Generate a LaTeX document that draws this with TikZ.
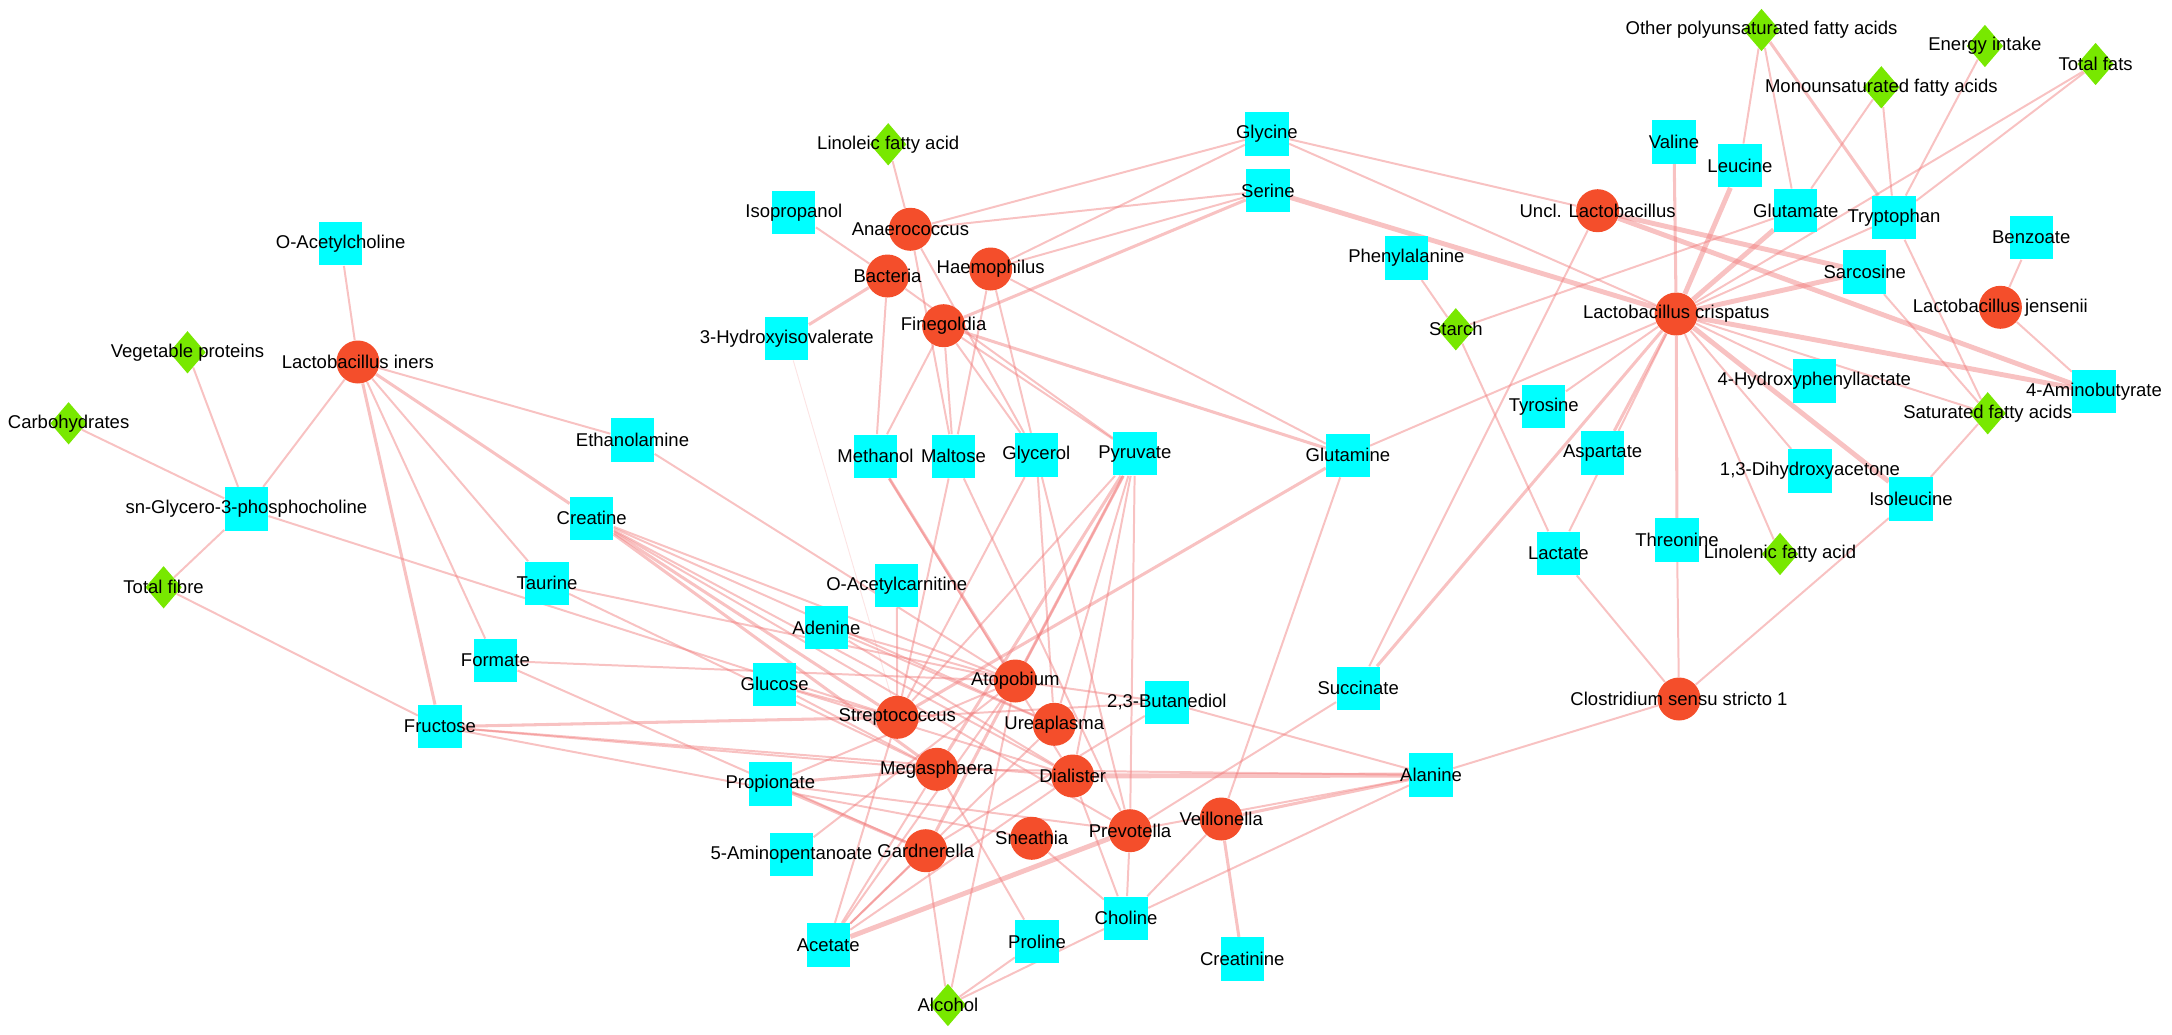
\documentclass[tikz,border=0pt]{standalone}
\usepackage{fontspec}
\setmainfont{Liberation Sans}
\usetikzlibrary{shapes.geometric, backgrounds}

\definecolor{bugred}{RGB}{244,78,43}
\definecolor{metabcyan}{RGB}{0,255,255}
\definecolor{dietgreen}{RGB}{120,232,0}
\definecolor{corrpink}{RGB}{240,120,120}

\begin{document}
\begin{tikzpicture}[
      x=0.015cm, y=-0.015cm,
      txt/.style={font=\fontsize{7.9}{9}\selectfont, inner sep=0pt, text=black},
      lbl/.style={label={[txt]center:#1}},
      bug/.style={circle, fill=bugred, minimum size=0.645cm, inner sep=0pt},
      metab/.style={rectangle, fill=metabcyan, minimum width=0.65cm, minimum height=0.65cm, inner sep=0pt},
      diet/.style={diamond, fill=dietgreen, minimum width=0.55cm, minimum height=0.64cm, inner sep=0pt},
      corr/.style={draw=corrpink, opacity=0.45, line width=0.85pt},
      corrmid/.style={corr, line width=1.3pt},
      corrthick/.style={corr, line width=2.1pt},
      corrfaint/.style={corr, opacity=0.2, line width=0.4pt}
    ]
      \useasboundingbox (0,0) rectangle (2172,1035);

      % Diet
      \node[diet, lbl=Vegetable proteins] (vegprot) at (187.5,352.3) {};
      \node[diet, lbl=Carbohydrates] (carbs) at (68.6,423.3) {};
      \node[diet, lbl=Total fibre] (totalfibre) at (163.6,587.3) {};
      \node[diet, lbl=Linoleic fatty acid] (linoleic) at (888.2,144.3) {};
      \node[diet, lbl=Starch] (starch) at (1455.8,329.3) {};
      \node[diet, lbl=Alcohol] (alcohol) at (947.9,1005) {};
      \node[diet, lbl=Other polyunsaturated fatty acids] (otherpufa) at (1761.5,30) {};
      \node[diet, lbl=Energy intake] (energy) at (1984.9,46) {};
      \node[diet, lbl=Total fats] (totalfats) at (2095.6,64) {};
      \node[diet, lbl=Monounsaturated fatty acids] (mufa) at (1881.3,87.3) {};
      \node[diet, lbl=Saturated fatty acids] (sfa) at (1987.7,413.3) {};
      \node[diet, lbl=Linolenic fatty acid] (linolenic) at (1780,554) {};

      % Metabolites
      \node[metab, lbl=O-Acetylcholine] (oacetylcholine) at (340.7,243.8) {};
      \node[metab, lbl=sn-Glycero-3-phosphocholine] (snglycero) at (246.4,509) {};
      \node[metab, lbl=Fructose] (fructose) at (440,726.7) {};
      \node[metab, lbl=Formate] (formate) at (495.4,660.7) {};
      \node[metab, lbl=Ethanolamine] (ethanolamine) at (632.5,440) {};
      \node[metab, lbl=Creatine] (creatine) at (591.7,518.3) {};
      \node[metab, lbl=Taurine] (taurine) at (547,583.3) {};
      \node[metab, lbl=3-Hydroxyisovalerate] (hydroxyiso) at (786.8,338.3) {};
      \node[metab, lbl=Isopropanol] (isopropanol) at (793.8,212.3) {};
      \node[metab, lbl=Methanol] (methanol) at (875.5,456.3) {};
      \node[metab, lbl=Maltose] (maltose) at (953.4,456.3) {};
      \node[metab, lbl=Glycerol] (glycerol) at (1036.4,455) {};
      \node[metab, lbl=Pyruvate] (pyruvate) at (1134.9,453.8) {};
      \node[metab, lbl=Glutamine] (glutamine) at (1347.9,455.2) {};
      \node[metab, lbl=Tyrosine] (tyrosine) at (1543.8,406.8) {};
      \node[metab, lbl=Lactate] (lactate) at (1558.4,553.3) {};
      \node[metab, lbl=Aspartate] (aspartate) at (1602.6,453) {};
      \node[metab, lbl=Succinate] (succinate) at (1358.2,688.3) {};
      \node[metab, lbl={2,3-Butanediol}] (butanediol) at (1166.9,702.3) {};
      \node[metab, lbl=O-Acetylcarnitine] (oacetylcarnitine) at (896.8,585.8) {};
      \node[metab, lbl=Adenine] (adenine) at (826.4,627.5) {};
      \node[metab, lbl=Glucose] (glucose) at (774.6,684.3) {};
      \node[metab, lbl=Propionate] (propionate) at (770.4,784) {};
      \node[metab, lbl=5-Aminopentanoate] (aminopent) at (791.4,854.3) {};
      \node[metab, lbl=Acetate] (acetate) at (828.2,945) {};
      \node[metab, lbl=Proline] (proline) at (1037,941.7) {};
      \node[metab, lbl=Choline] (choline) at (1126.1,918.3) {};
      \node[metab, lbl=Creatinine] (creatinine) at (1242.2,959) {};
      \node[metab, lbl=Alanine] (alanine) at (1431.1,775) {};
      \node[metab, lbl=Glycine] (glycine) at (1266.9,134) {};
      \node[metab, lbl=Serine] (serine) at (1267.9,190.7) {};
      \node[metab, lbl=Phenylalanine] (phenylalanine) at (1406.4,258) {};
      \node[metab, lbl=Valine] (valine) at (1674,142) {};
      \node[metab, lbl=Leucine] (leucine) at (1739.9,165.7) {};
      \node[metab, lbl=Glutamate] (glutamate) at (1795.8,210.7) {};
      \node[metab, lbl=Tryptophan] (tryptophan) at (1894,217.7) {};
      \node[metab, lbl=Benzoate] (benzoate) at (2031.2,237.7) {};
      \node[metab, lbl=Sarcosine] (sarcosine) at (1864.7,272) {};
      \node[metab, lbl=4-Hydroxyphenyllactate] (hydroxyphenyl) at (1814.3,381) {};
      \node[metab, lbl=4-Aminobutyrate] (aminobutyrate) at (2094,391.7) {};
      \node[metab, lbl={1,3-Dihydroxyacetone}] (dihydroxyacetone) at (1810,471) {};
      \node[metab, lbl=Isoleucine] (isoleucine) at (1911,499) {};
      \node[metab, lbl=Threonine] (threonine) at (1677,540) {};

      % Bacteria
      \node[bug, lbl=Lactobacillus iners] (liners) at (357.9,362) {};
      \node[bug, lbl=Anaerococcus] (anaerococcus) at (910.4,229.3) {};
      \node[bug, lbl=Bacteria] (bacteria) at (887.5,276) {};
      \node[bug, lbl=Haemophilus] (haemophilus) at (990.7,269) {};
      \node[bug, lbl=Finegoldia] (finegoldia) at (943.6,325.7) {};
      \node[bug, lbl=Atopobium] (atopobium) at (1015.3,681) {};
      \node[bug, lbl=Streptococcus] (streptococcus) at (897.3,717.3) {};
      \node[bug, lbl=Ureaplasma] (ureaplasma) at (1054.3,724.3) {};
      \node[bug, lbl=Megasphaera] (megasphaera) at (936.7,769.3) {};
      \node[bug, lbl=Dialister] (dialister) at (1072.7,776) {};
      \node[bug, lbl=Sneathia] (sneathia) at (1031.7,838.3) {};
      \node[bug, lbl=Gardnerella] (gardnerella) at (925.7,850.7) {};
      \node[bug, lbl=Prevotella] (prevotella) at (1130,830.7) {};
      \node[bug, lbl=Veillonella] (veillonella) at (1221.2,819) {};
      \node[bug, lbl=Clostridium sensu stricto 1] (clostridium) at (1679,699) {};
      \node[bug, lbl=Uncl. Lactobacillus] (uncllacto) at (1597.6,210.7) {};
      \node[bug, lbl=Lactobacillus crispatus] (lcrispatus) at (1676.2,314) {};
      \node[bug, lbl=Lactobacillus jensenii] (ljensenii) at (2000.4,307.3) {};

      % Correlations
      \begin{scope}[on background layer]
      \draw[corr] (oacetylcholine) -- (liners);
      \draw[corr] (vegprot) -- (snglycero);
      \draw[corr] (carbs) -- (snglycero);
      \draw[corr] (liners) -- (snglycero);
      \draw[corr] (snglycero) -- (totalfibre);
      \draw[corr] (totalfibre) -- (fructose);
      \draw[corr] (snglycero) -- (streptococcus);
      \draw[corr] (liners) -- (ethanolamine);
      \draw[corrmid] (liners) -- (creatine);
      \draw[corr] (liners) -- (taurine);
      \draw[corr] (liners) -- (formate);
      \draw[corrmid] (liners) -- (fructose);
      \draw[corr] (ethanolamine) -- (atopobium);
      \draw[corr] (creatine) -- (atopobium);
      \draw[corr] (creatine) -- (ureaplasma);
      \draw[corr] (creatine) -- (dialister);
      \draw[corrmid] (creatine) -- (streptococcus);
      \draw[corrmid] (creatine) -- (megasphaera);
      \draw[corr] (creatine) -- (prevotella);
      \draw[corr] (taurine) -- (atopobium);
      \draw[corr] (taurine) -- (megasphaera);
      \draw[corr] (formate) -- (atopobium);
      \draw[corr] (formate) -- (gardnerella);
      \draw[corrmid] (fructose) -- (streptococcus);
      \draw[corr] (fructose) -- (megasphaera);
      \draw[corr] (fructose) -- (dialister);
      \draw[corr] (fructose) -- (sneathia);
      \draw[corr] (glucose) -- (streptococcus);
      \draw[corr] (glucose) -- (megasphaera);
      \draw[corr] (glucose) -- (dialister);
      \draw[corr] (adenine) -- (atopobium);
      \draw[corr] (adenine) -- (ureaplasma);
      \draw[corr] (adenine) -- (dialister);
      \draw[corr] (oacetylcarnitine) -- (streptococcus);
      \draw[corrfaint] (hydroxyiso) -- (streptococcus);
      \draw[corrmid] (hydroxyiso) -- (bacteria);
      \draw[corr] (isopropanol) -- (bacteria);
      \draw[corr] (linoleic) -- (anaerococcus);
      \draw[corr] (anaerococcus) -- (glycine);
      \draw[corr] (anaerococcus) -- (serine);
      \draw[corr] (anaerococcus) -- (maltose);
      \draw[corr] (anaerococcus) -- (glycerol);
      \draw[corr] (haemophilus) -- (glycine);
      \draw[corr] (haemophilus) -- (serine);
      \draw[corr] (haemophilus) -- (glutamine);
      \draw[corr] (haemophilus) -- (maltose);
      \draw[corr] (haemophilus) -- (glycerol);
      \draw[corrmid] (finegoldia) -- (serine);
      \draw[corrmid] (finegoldia) -- (glutamine);
      \draw[corr] (finegoldia) -- (methanol);
      \draw[corr] (finegoldia) -- (maltose);
      \draw[corr] (finegoldia) -- (glycerol);
      \draw[corr] (finegoldia) -- (pyruvate);
      \draw[corr] (bacteria) -- (methanol);
      \draw[corr] (bacteria) -- (pyruvate);
      \draw[corrmid] (methanol) -- (atopobium);
      \draw[corr] (methanol) -- (dialister);
      \draw[corr] (maltose) -- (streptococcus);
      \draw[corr] (maltose) -- (prevotella);
      \draw[corr] (glycerol) -- (streptococcus);
      \draw[corr] (glycerol) -- (ureaplasma);
      \draw[corr] (glycerol) -- (prevotella);
      \draw[corr] (pyruvate) -- (streptococcus);
      \draw[corrmid] (pyruvate) -- (megasphaera);
      \draw[corrmid] (pyruvate) -- (gardnerella);
      \draw[corr] (pyruvate) -- (atopobium);
      \draw[corr] (pyruvate) -- (ureaplasma);
      \draw[corr] (pyruvate) -- (dialister);
      \draw[corr] (pyruvate) -- (prevotella);
      \draw[corr] (glutamine) -- (lcrispatus);
      \draw[corrmid] (glutamine) -- (streptococcus);
      \draw[corr] (glutamine) -- (veillonella);
      \draw[corr] (glycine) -- (uncllacto);
      \draw[corr] (glycine) -- (lcrispatus);
      \draw[corrthick] (serine) -- (lcrispatus);
      \draw[corr] (phenylalanine) -- (starch);
      \draw[corr] (starch) -- (lactate);
      \draw[corr] (starch) -- (glutamate);
      \draw[corr] (uncllacto) -- (succinate);
      \draw[corrthick] (uncllacto) -- (sarcosine);
      \draw[corrthick] (uncllacto) -- (aminobutyrate);
      \draw[corrmid] (succinate) -- (lcrispatus);
      \draw[corr] (succinate) -- (prevotella);
      \draw[corrmid] (lcrispatus) -- (valine);
      \draw[corrthick] (lcrispatus) -- (leucine);
      \draw[corrthick] (lcrispatus) -- (glutamate);
      \draw[corr] (lcrispatus) -- (tryptophan);
      \draw[corrthick] (lcrispatus) -- (sarcosine);
      \draw[corrthick] (lcrispatus) -- (aminobutyrate);
      \draw[corr] (lcrispatus) -- (sfa);
      \draw[corr] (lcrispatus) -- (hydroxyphenyl);
      \draw[corrthick] (lcrispatus) -- (isoleucine);
      \draw[corr] (lcrispatus) -- (dihydroxyacetone);
      \draw[corr] (lcrispatus) -- (linolenic);
      \draw[corrmid] (lcrispatus) -- (threonine);
      \draw[corrmid] (lcrispatus) -- (aspartate);
      \draw[corr] (lcrispatus) -- (tyrosine);
      \draw[corr] (lcrispatus) -- (lactate);
      \draw[corr] (lcrispatus) -- (totalfats);
      \draw[corr] (threonine) -- (clostridium);
      \draw[corr] (lactate) -- (clostridium);
      \draw[corr] (isoleucine) -- (clostridium);
      \draw[corr] (clostridium) -- (alanine);
      \draw[corr] (isoleucine) -- (sfa);
      \draw[corr] (ljensenii) -- (benzoate);
      \draw[corr] (ljensenii) -- (aminobutyrate);
      \draw[corr] (sarcosine) -- (sfa);
      \draw[corr] (tryptophan) -- (sfa);
      \draw[corr] (otherpufa) -- (leucine);
      \draw[corr] (otherpufa) -- (glutamate);
      \draw[corrmid] (otherpufa) -- (tryptophan);
      \draw[corr] (mufa) -- (glutamate);
      \draw[corr] (mufa) -- (tryptophan);
      \draw[corr] (energy) -- (tryptophan);
      \draw[corr] (totalfats) -- (tryptophan);
      \draw[corr] (atopobium) -- (butanediol);
      \draw[corr] (streptococcus) -- (butanediol);
      \draw[corr] (butanediol) -- (alanine);
      \draw[corr] (butanediol) -- (gardnerella);
      \draw[corrthick] (dialister) -- (alanine);
      \draw[corr] (megasphaera) -- (alanine);
      \draw[corrmid] (veillonella) -- (alanine);
      \draw[corr] (prevotella) -- (alanine);
      \draw[corrmid] (veillonella) -- (creatinine);
      \draw[corr] (veillonella) -- (choline);
      \draw[corr] (alanine) -- (choline);
      \draw[corr] (prevotella) -- (choline);
      \draw[corr] (dialister) -- (choline);
      \draw[corr] (sneathia) -- (choline);
      \draw[corr] (alcohol) -- (choline);
      \draw[corr] (alcohol) -- (proline);
      \draw[corr] (alcohol) -- (gardnerella);
      \draw[corr] (alcohol) -- (atopobium);
      \draw[corr] (proline) -- (megasphaera);
      \draw[corr] (acetate) -- (streptococcus);
      \draw[corr] (acetate) -- (megasphaera);
      \draw[corr] (acetate) -- (atopobium);
      \draw[corr] (acetate) -- (ureaplasma);
      \draw[corr] (acetate) -- (dialister);
      \draw[corrthick] (acetate) -- (prevotella);
      \draw[corr] (acetate) -- (gardnerella);
      \draw[corr] (aminopent) -- (atopobium);
      \draw[corr] (propionate) -- (atopobium);
      \draw[corrmid] (propionate) -- (megasphaera);
      \draw[corrmid] (propionate) -- (gardnerella);
      \draw[corr] (propionate) -- (prevotella);
      \end{scope}

    \end{tikzpicture}
\end{document}
